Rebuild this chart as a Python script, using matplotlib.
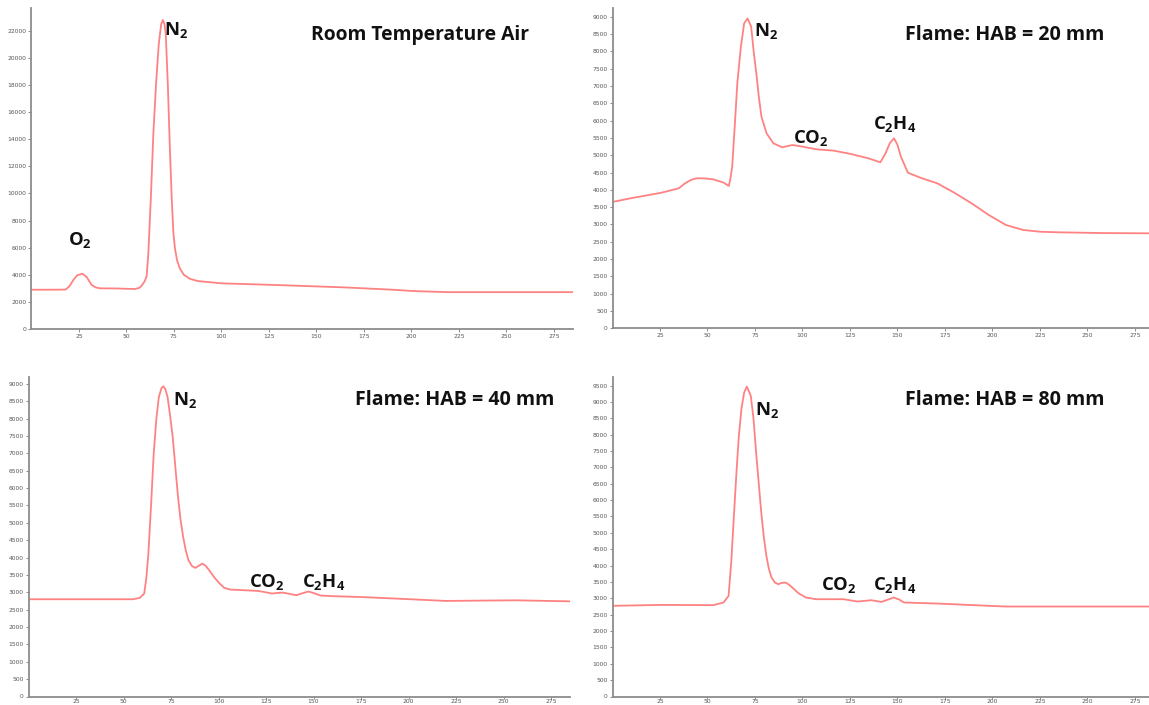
import matplotlib
matplotlib.use('Agg')
import matplotlib.pyplot as plt
import numpy as np

W, H = 1149, 705

plt.rcParams['mathtext.fontset'] = 'custom'
plt.rcParams['mathtext.rm'] = 'Open Sans'
plt.rcParams['mathtext.bf'] = 'Open Sans:bold'
plt.rcParams['mathtext.default'] = 'bf'

# Room temperature air
x_air = [0, 10, 18, 20, 22, 24, 26.8, 29, 31.7, 34, 36.3, 45, 54.6, 57, 58.3, 59.5, 60.6,
         61.5, 62.8, 64.2, 65.6, 67, 68.3, 69.2, 70, 70.7, 71.8, 72.9, 73.8, 74.7, 75.6,
         76.6, 78, 80.2, 83.5, 87.5, 100, 128, 164, 190, 201, 219, 250, 285]
y_air = [2900, 2900, 2910, 3150, 3600, 3950, 4080, 3850, 3250, 3060, 3000, 2990, 2950, 3050,
         3250, 3500, 3860, 5500, 9500, 14500, 18100, 21000, 22500, 22800, 22500, 21800, 18000,
         13200, 9800, 7100, 5900, 5100, 4500, 4000, 3700, 3540, 3370, 3250, 3075, 2900, 2800,
         2720, 2720, 2720]

# Flame HAB = 20 mm
x_20 = [0, 10, 25.8, 34.9, 38, 41.2, 44, 47.6, 53, 58.5, 61.2, 62, 63, 64.3, 65.7, 67.5,
        69.3, 71.1, 73, 74.3, 75.7, 77, 78.4, 81.1, 84.7, 89.3, 94.7, 100.2, 107.4, 116.5,
        125.5, 134.6, 141, 143.7, 146, 148.2, 150, 151.8, 155.5, 162, 170.9, 179.9, 189,
        198.1, 207.1, 216.2, 225, 234.3, 260, 282.4]
y_20 = [3650, 3760, 3917, 4044, 4180, 4283, 4330, 4333, 4304, 4207, 4111, 4300, 4668, 5800,
        7077, 8100, 8810, 8950, 8711, 8000, 7365, 6700, 6112, 5632, 5344, 5228, 5295, 5246,
        5170, 5131, 5035, 4911, 4795, 5055, 5350, 5488, 5300, 4957, 4495, 4350, 4189, 3917,
        3611, 3272, 2984, 2840, 2790, 2773, 2750, 2744]

# Flame HAB = 40 mm
x_40 = [0, 30, 54.9, 58.5, 60.9, 62, 63.1, 64.5, 65.9, 67.3, 68.6, 70, 71, 72, 73.2, 74.5,
        75.9, 77.3, 78.7, 80, 81.4, 82.8, 84.2, 86, 87.8, 89.5, 91.5, 93.3, 95.1, 97.8,
        100.6, 103, 106.1, 120.7, 124, 128.1, 133.6, 137, 140.9, 144, 147.3, 150, 153.7,
        160, 173.8, 201.2, 219.5, 256.1, 285]
y_40 = [2800, 2800, 2800, 2838, 2965, 3400, 4116, 5500, 6995, 8000, 8624, 8880, 8932, 8850,
        8624, 8100, 7473, 6600, 5746, 5100, 4594, 4200, 3923, 3760, 3703, 3760, 3828, 3760,
        3636, 3430, 3253, 3130, 3080, 3040, 3010, 2965, 2994, 2960, 2916, 2970, 3022, 2980,
        2907, 2890, 2867, 2800, 2752, 2770, 2740]

# Flame HAB = 80 mm
x_80 = [0, 25.8, 53, 58.4, 61.1, 62.5, 63.8, 65.2, 66.5, 67.9, 69.3, 70.7, 72.8, 74.2, 75.6,
        77, 78.3, 79.6, 81, 82.3, 83.7, 85.5, 87.3, 89, 91, 92.8, 94.6, 98, 101.8, 107.3,
        121.7, 128.9, 136.2, 141.6, 145, 148, 151, 153.4, 170.6, 206.7, 282.4]
y_80 = [2770, 2798, 2790, 2870, 3073, 4100, 5415, 6800, 7961, 8800, 9285, 9467, 9183, 8500,
        7452, 6500, 5620, 4900, 4295, 3900, 3634, 3480, 3430, 3470, 3482, 3420, 3329, 3150,
        3024, 2972, 2972, 2901, 2941, 2890, 2960, 3024, 2960, 2871, 2840, 2749, 2749]

x_ticks = np.arange(25, 276, 25)

fig = plt.figure(figsize=(W / 100, H / 100), dpi=100)


def make_axes(left, right, top, bottom, xmax, ymax, ystep, ylast, xlen=2.5, xpad=1):
    ax = fig.add_axes([left / W, 1 - bottom / H, (right - left) / W, (bottom - top) / H])
    ax.set_xlim(0, xmax)
    ax.set_ylim(0, ymax)
    ax.set_xticks(x_ticks)
    ax.set_yticks(np.arange(0, ylast + 1, ystep))
    for s in ['top', 'right']:
        ax.spines[s].set_visible(False)
    for s in ['left', 'bottom']:
        ax.spines[s].set_color('#8c8c8c')
        ax.spines[s].set_linewidth(1.3)
    ax.tick_params(length=2.5, width=0.7, colors='#8c8c8c', labelsize=4.3,
                   labelcolor='#555555', pad=1)
    ax.tick_params(axis='x', length=xlen, pad=xpad)
    return ax


ax1 = make_axes(31.4, 573, 8, 329, 285, 23690, 2000, 22000)
ax2 = make_axes(612.5, 1149, 8, 328.3, 282.4, 9252, 500, 9000)
ax3 = make_axes(28.5, 570, 377, 696.5, 285, 9200, 500, 9000, xlen=1.5, xpad=0.3)
ax4 = make_axes(612.5, 1149, 377, 696.5, 282.4, 9760, 500, 9500, xlen=1.5, xpad=0.3)

line_kw = dict(color='#ff8282', lw=1.3, solid_joinstyle='round')
ax1.plot(x_air, y_air, **line_kw)
ax2.plot(x_20, y_20, **line_kw)
ax3.plot(x_40, y_40, **line_kw)
ax4.plot(x_80, y_80, **line_kw)


def label(px, baseline, s, size=13.3):
    fig.text(px / W, 1 - baseline / H, s, fontsize=size, fontweight='bold',
             family='Open Sans', color='#111111', va='baseline', ha='left')


label(311, 40, 'Room Temperature Air', 13.9)
label(164, 35, r'N$_2$')
label(67.5, 245, r'O$_2$')

label(905, 40, 'Flame: HAB = 20 mm', 14.1)
label(754, 36, r'N$_2$')
label(793, 142.7, r'CO$_2$')
label(873, 129.3, r'C$_2$H$_4$')

label(354.7, 404.7, 'Flame: HAB = 40 mm', 14.1)
label(173, 404.7, r'N$_2$')
label(248.7, 587, r'CO$_2$')
label(301.5, 587, r'C$_2$H$_4$')

label(905, 404.7, 'Flame: HAB = 80 mm', 14.1)
label(755, 414.7, r'N$_2$')
label(821.4, 590.3, r'CO$_2$')
label(873, 590.3, r'C$_2$H$_4$')

fig.savefig('out.png', dpi=100)
